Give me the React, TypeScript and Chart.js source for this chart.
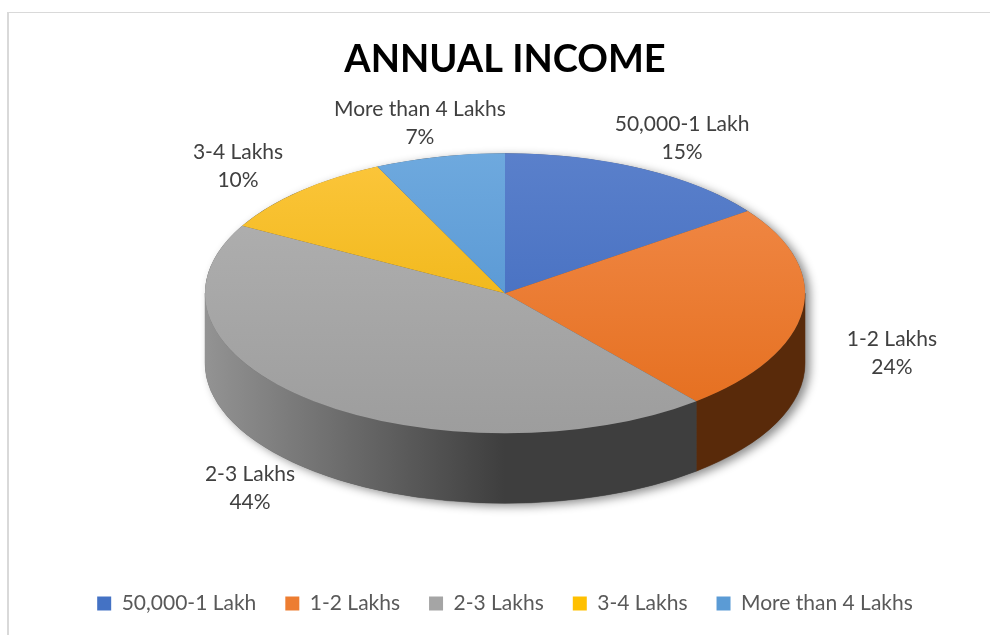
import React, { useEffect, useRef } from "react";
import { Chart, registerables } from "chart.js";

Chart.register(...registerables);

// ---- data ----
const CATEGORIES = ["50,000-1 Lakh", "1-2 Lakhs", "2-3 Lakhs", "3-4 Lakhs", "More than 4 Lakhs"];
const VALUES = [15, 24, 44, 10, 7];
const TITLE = "ANNUAL INCOME";

// ---- styles ----
const TOP_LIGHT = ["#5a80cb", "#f28c4c", "#b3b3b3", "#fcc63c", "#6ea9de"];
const TOP_DARK = ["#3b66bc", "#e46d1c", "#9d9d9d", "#e8ad00", "#4a8ccd"];
const LEGEND_COLORS = ["#4472c4", "#ed7d31", "#a5a5a5", "#ffc000", "#5b9bd5"];
const WALL_LIGHT = ["#2f4f8a", "#7a3c12", "#939393", "#9a7400", "#3a6a96"];
const WALL_DARK = ["#1f3a6a", "#592a0a", "#3e3e3e", "#7a5c00", "#2a5078"];
const RX = 300;
const RY = 140;
const DEPTH = 70;
const LABEL_RX = 390;
const LABEL_RY_UP = 174;
const LABEL_RY_DOWN = 198;
const LABEL_MARGIN = 4;
const LABEL_HALF_H = 22;
const FONT = "Lato";

function insideBody(px: number, py: number, x: number, cyTop: number) {
  const dx = (px - x) / RX;
  if (Math.abs(dx) > 1) return false;
  const dyTop = (py - cyTop) / RY;
  const dyBot = (py - cyTop - DEPTH) / RY;
  if (dx * dx + dyTop * dyTop <= 1) return true;
  if (dx * dx + dyBot * dyBot <= 1) return true;
  return py >= cyTop && py <= cyTop + DEPTH;
}

const pie3d = {
  id: "pie3d",
  beforeDatasetsDraw(chart: any) {
    const meta = chart.getDatasetMeta(0);
    const first = meta.data[0];
    if (!first) return;
    const { x, y, outerRadius } = first as any;
    const ctx = chart.ctx as CanvasRenderingContext2D;
    const cyTop = y - DEPTH / 2;

    // soft shadow of the whole body
    ctx.save();
    ctx.beginPath();
    ctx.ellipse(x, cyTop, RX, RY, 0, Math.PI, 2 * Math.PI);
    ctx.lineTo(x + RX, cyTop + DEPTH);
    ctx.ellipse(x, cyTop + DEPTH, RX, RY, 0, 0, Math.PI);
    ctx.closePath();
    ctx.shadowColor = "rgba(0,0,0,0.45)";
    ctx.shadowBlur = 10;
    ctx.shadowOffsetX = 5;
    ctx.shadowOffsetY = 3;
    ctx.fillStyle = "#555";
    ctx.fill();
    ctx.restore();

    // side walls (front half only)
    meta.data.forEach((arc: any, i: number) => {
      const a1 = Math.max(arc.startAngle, 0);
      const a2 = Math.min(arc.endAngle, Math.PI);
      if (a2 <= a1) return;
      const g = ctx.createLinearGradient(x - RX, 0, x + RX, 0);
      g.addColorStop(0, WALL_LIGHT[i]);
      g.addColorStop(0.5, WALL_DARK[i]);
      g.addColorStop(1, WALL_DARK[i]);
      ctx.save();
      ctx.beginPath();
      ctx.ellipse(x, cyTop, RX, RY, 0, a1, a2);
      ctx.lineTo(x + RX * Math.cos(a2), cyTop + DEPTH + RY * Math.sin(a2));
      ctx.ellipse(x, cyTop + DEPTH, RX, RY, 0, a2, a1, true);
      ctx.closePath();
      ctx.fillStyle = g;
      ctx.fill();
      ctx.strokeStyle = g;
      ctx.lineWidth = 0.5;
      ctx.stroke();
      ctx.restore();
    });

    // squash the flat pie into the top face
    ctx.save();
    ctx.translate(x, cyTop);
    ctx.scale(RX / outerRadius, RY / outerRadius);
    ctx.translate(-x, -y);
  },
  afterDatasetsDraw(chart: any) {
    const ctx = chart.ctx as CanvasRenderingContext2D;
    ctx.restore();
    const meta = chart.getDatasetMeta(0);
    const first = meta.data[0];
    if (!first) return;
    const { x, y } = first as any;
    const cyTop = y - DEPTH / 2;
    const total = VALUES.reduce((a, b) => a + b, 0);
    ctx.save();
    ctx.font = `21px ${FONT}`;
    ctx.fillStyle = "#404040";
    ctx.textAlign = "center";
    ctx.textBaseline = "middle";
    meta.data.forEach((arc: any, i: number) => {
      const mid = (arc.startAngle + arc.endAngle) / 2;
      const c = Math.cos(mid);
      const s = Math.sin(mid);
      const pct = `${Math.round((VALUES[i] / total) * 100)}%`;
      const w = Math.max(ctx.measureText(CATEGORIES[i]).width, ctx.measureText(pct).width);
      let lx = x + LABEL_RX * c;
      let ly = s < 0 ? cyTop + LABEL_RY_UP * s : cyTop + DEPTH / 2 + LABEL_RY_DOWN * s;
      // push outward until the text box clears the pie body
      for (let k = 0; k < 100; k++) {
        const hw = w / 2 + LABEL_MARGIN;
        const hh = LABEL_HALF_H;
        const pts = [
          [lx - hw, ly - hh], [lx, ly - hh], [lx + hw, ly - hh],
          [lx - hw, ly], [lx + hw, ly],
          [lx - hw, ly + hh], [lx, ly + hh], [lx + hw, ly + hh],
        ];
        if (!pts.some(([px, py]) => insideBody(px, py, x, cyTop))) break;
        lx += 2 * c;
        ly += 2 * s;
      }
      ctx.fillText(CATEGORIES[i], lx, ly - 14);
      ctx.fillText(pct, lx, ly + 14);
    });
    ctx.restore();
  },
};

function faceColor(c: any) {
  const i = c.dataIndex;
  const chart = c.chart;
  const area = chart.chartArea;
  if (!area) return LEGEND_COLORS[i];
  const cy = (area.top + area.bottom) / 2;
  const r = Math.min(area.right - area.left, area.bottom - area.top) / 2;
  const g = chart.ctx.createLinearGradient(0, cy - r, 0, cy + r);
  g.addColorStop(0, TOP_LIGHT[i]);
  g.addColorStop(1, TOP_DARK[i]);
  return g;
}

export default function App() {
  const ref = useRef<HTMLCanvasElement>(null);
  useEffect(() => {
    if (!ref.current) return;
    const chart = new Chart(ref.current, {
      type: "pie",
      data: {
        labels: CATEGORIES,
        datasets: [
          {
            data: VALUES,
            backgroundColor: faceColor as any,
            borderWidth: 0,
            clip: false as any,
          },
        ],
      },
      options: {
        responsive: false,
        animation: false,
        devicePixelRatio: 1,
        layout: { padding: { left: 20, top: 12, right: 0, bottom: 11 } },
        plugins: {
          title: {
            display: true,
            text: TITLE,
            color: "#000000",
            font: { family: FONT, size: 38, weight: "bold" },
            padding: { top: 25, bottom: 10 },
          },
          legend: {
            position: "bottom",
            labels: {
              color: "#595959",
              font: { family: FONT, size: 21 },
              boxWidth: 14,
              boxHeight: 14,
              padding: 29,
              generateLabels: () =>
                CATEGORIES.map((text, i) => ({
                  text,
                  fillStyle: LEGEND_COLORS[i],
                  strokeStyle: LEGEND_COLORS[i],
                  lineWidth: 0,
                  hidden: false,
                  index: i,
                  fontColor: "#595959",
                })) as any,
            },
          },
          tooltip: { enabled: false },
        },
      },
      plugins: [pie3d],
    });
    return () => chart.destroy();
  }, []);

  return (
    <div
      style={{
        position: "fixed",
        left: 0,
        top: 0,
        width: 990,
        height: 635,
        overflow: "hidden",
        background: "#fff",
      }}
    >
      <div
        style={{
          position: "absolute",
          left: 7,
          top: 12,
          width: 1100,
          height: 800,
          borderLeft: "2px solid #d9d9d9",
          borderTop: "1px solid #d9d9d9",
        }}
      />
      <canvas ref={ref} width={990} height={635} style={{ position: "absolute", left: 0, top: 0 }} />
    </div>
  );
}
